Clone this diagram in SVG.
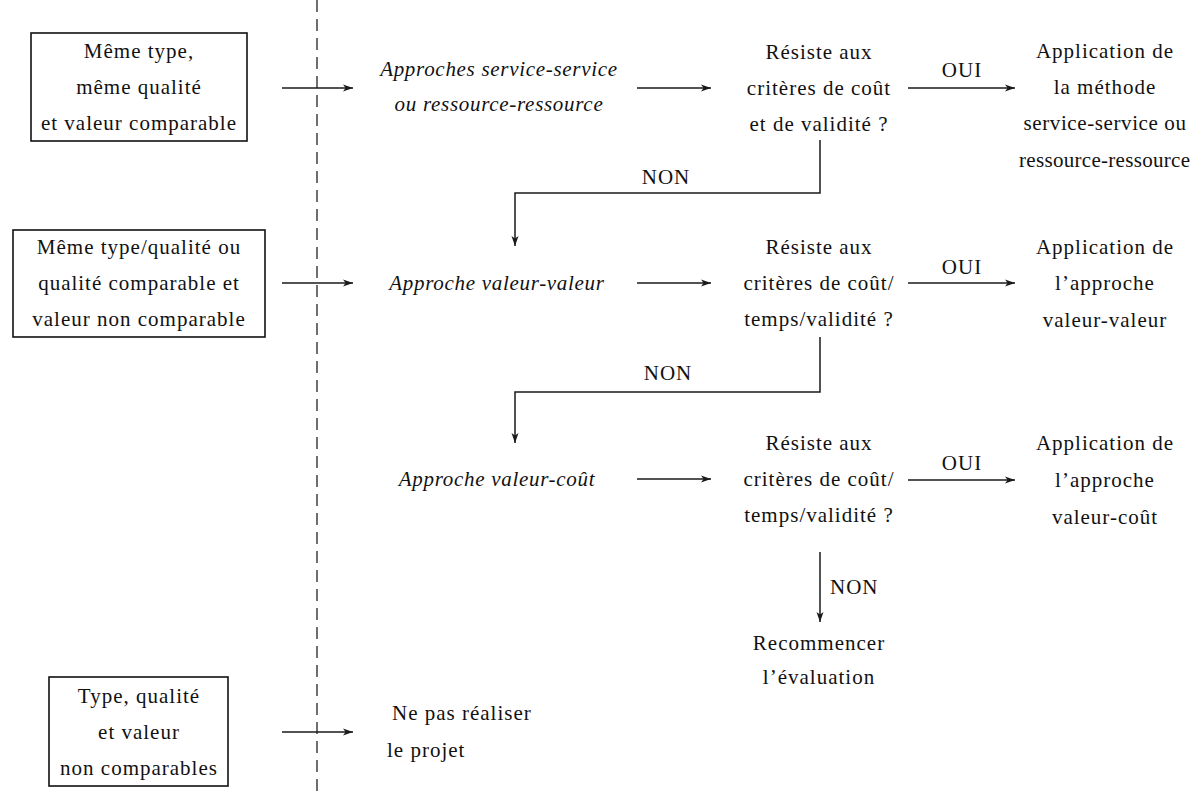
<svg xmlns="http://www.w3.org/2000/svg" width="1195" height="798" viewBox="0 0 1195 798">
<style>
text{font-family:"Liberation Serif","DejaVu Serif","Times New Roman",serif;font-size:21px;fill:#111;letter-spacing:1px}
.c{text-anchor:middle}
.i{font-style:italic;letter-spacing:0.7px}
.box{fill:none;stroke:#111;stroke-width:1.6}
.ln{fill:none;stroke:#1a1a1a;stroke-width:1.5}
.dash{fill:none;stroke:#222;stroke-width:1.3;stroke-dasharray:12 7}
</style>
<defs>
<marker id="ah" viewBox="0 0 10 8" refX="10" refY="4" markerWidth="10" markerHeight="8" markerUnits="userSpaceOnUse" orient="auto">
<path d="M0,0.5 L10,4 L0,7.5 L2.6,4 Z" fill="#1a1a1a"/>
</marker>
</defs>
<rect width="1195" height="798" fill="#fff"/>

<g id="separator"><line class="dash" x1="317" y1="0" x2="317" y2="798"/></g>

<g id="box1">
<rect class="box" x="31" y="33" width="216" height="108"/>
<text class="c" x="139" y="58">Même type,</text>
<text class="c" x="139" y="94">même qualité</text>
<text class="c" x="139" y="130">et valeur comparable</text>
</g>
<g id="box2">
<rect class="box" x="13" y="230" width="252" height="107"/>
<text class="c" x="139" y="254">Même type/qualité ou</text>
<text class="c" x="139" y="290">qualité comparable et</text>
<text class="c" x="139" y="326">valeur non comparable</text>
</g>
<g id="box3">
<rect class="box" x="49" y="677" width="179" height="109"/>
<text class="c" x="139" y="703">Type, qualité</text>
<text class="c" x="139" y="739">et valeur</text>
<text class="c" x="139" y="775">non comparables</text>
</g>

<g id="approche1">
<text class="c i" x="499" y="76">Approches service-service</text>
<text class="c i" x="499" y="111">ou ressource-ressource</text>
</g>
<g id="approche2"><text class="c i" x="497" y="290">Approche valeur-valeur</text></g>
<g id="approche3"><text class="c i" x="497" y="486">Approche valeur-coût</text></g>
<g id="nepas">
<text x="392" y="720">Ne pas réaliser</text>
<text x="387" y="757">le projet</text>
</g>

<g id="decision1">
<text class="c" x="819" y="59">Résiste aux</text>
<text class="c" x="819" y="95">critères de coût</text>
<text class="c" x="819" y="131">et de validité ?</text>
</g>
<g id="decision2">
<text class="c" x="819" y="254">Résiste aux</text>
<text class="c" x="819" y="290">critères de coût/</text>
<text class="c" x="819" y="326">temps/validité ?</text>
</g>
<g id="decision3">
<text class="c" x="819" y="450">Résiste aux</text>
<text class="c" x="819" y="486">critères de coût/</text>
<text class="c" x="819" y="522">temps/validité ?</text>
</g>

<g id="result1">
<text class="c" x="1105" y="58">Application de</text>
<text class="c" x="1105" y="94">la méthode</text>
<text class="c" x="1105" y="130" style="letter-spacing:0.6px">service-service ou</text>
<text x="1019" y="167" textLength="171" lengthAdjust="spacing" style="letter-spacing:0">ressource-ressource</text>
</g>
<g id="result2">
<text class="c" x="1105" y="254">Application de</text>
<text class="c" x="1105" y="290">l’approche</text>
<text class="c" x="1105" y="327">valeur-valeur</text>
</g>
<g id="result3">
<text class="c" x="1105" y="450">Application de</text>
<text class="c" x="1105" y="487">l’approche</text>
<text class="c" x="1105" y="524">valeur-coût</text>
</g>
<g id="recommencer">
<text class="c" x="819" y="650">Recommencer</text>
<text class="c" x="819" y="684">l’évaluation</text>
</g>

<g id="connectors">
<line class="ln" x1="282" y1="88" x2="353" y2="88" marker-end="url(#ah)"/>
<line class="ln" x1="282" y1="283" x2="353" y2="283" marker-end="url(#ah)"/>
<line class="ln" x1="282" y1="732" x2="353" y2="732" marker-end="url(#ah)"/>
<line class="ln" x1="637" y1="88" x2="711" y2="88" marker-end="url(#ah)"/>
<line class="ln" x1="637" y1="283" x2="711" y2="283" marker-end="url(#ah)"/>
<line class="ln" x1="637" y1="479" x2="711" y2="479" marker-end="url(#ah)"/>
<line class="ln" x1="908" y1="88" x2="1015" y2="88" marker-end="url(#ah)"/>
<line class="ln" x1="908" y1="283" x2="1015" y2="283" marker-end="url(#ah)"/>
<line class="ln" x1="908" y1="480" x2="1015" y2="480" marker-end="url(#ah)"/>
<text class="c" x="962" y="77">OUI</text>
<text class="c" x="962" y="274">OUI</text>
<text class="c" x="962" y="470">OUI</text>
<path class="ln" d="M820,140 V193 H515 V246" marker-end="url(#ah)"/>
<text class="c" x="666" y="184">NON</text>
<path class="ln" d="M820,337 V392 H515 V443" marker-end="url(#ah)"/>
<text class="c" x="668" y="380">NON</text>
<line class="ln" x1="820" y1="552" x2="820" y2="622" marker-end="url(#ah)"/>
<text x="830" y="594">NON</text>
</g>
</svg>
